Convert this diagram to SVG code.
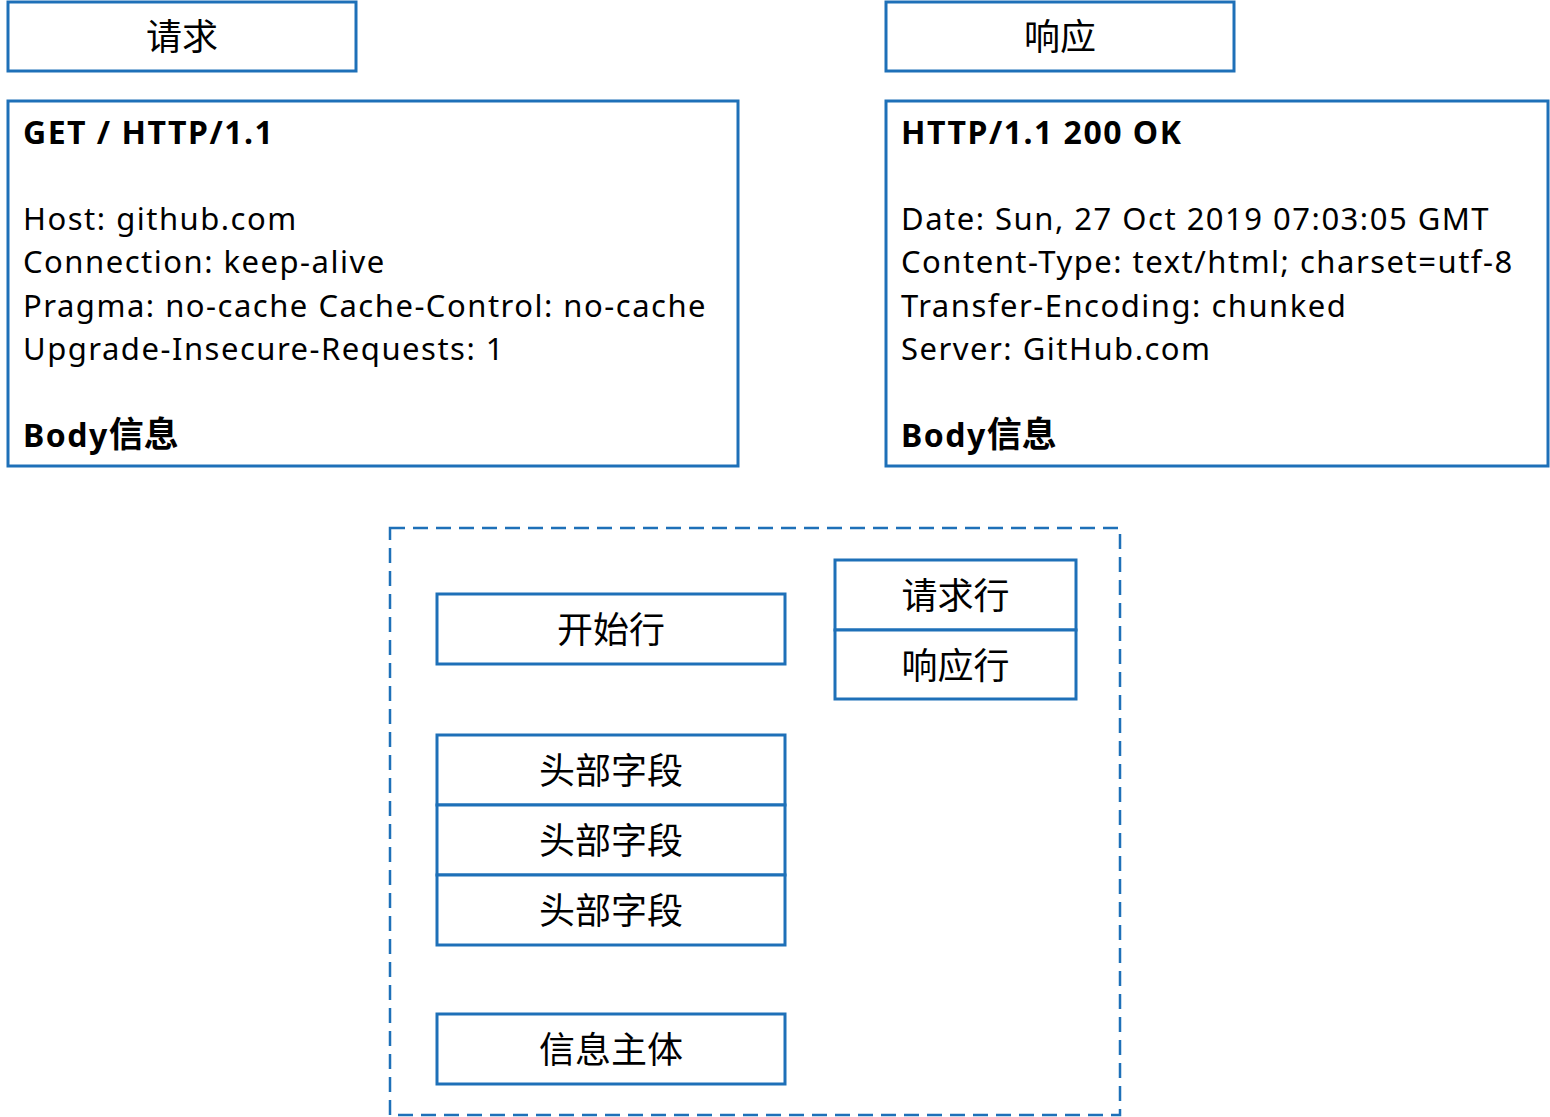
<svg xmlns="http://www.w3.org/2000/svg" width="1550" height="1117" viewBox="0 0 1550 1117">
<style>
.box{fill:#fff;stroke:#1E70B8;stroke-width:3}
.dash{fill:none;stroke:#1E70B8;stroke-width:2.5;stroke-dasharray:15 8}
.t{font-family:"Noto Sans CJK SC",sans-serif;fill:#000}
.c{font-size:36px;text-anchor:middle}
.l{font-family:"Noto Sans","Noto Sans CJK SC",sans-serif;font-size:31px;letter-spacing:1.5px}
.b{font-family:"Noto Sans","Noto Sans CJK SC",sans-serif;font-size:32px;font-weight:bold;letter-spacing:1.5px}
.zh{font-family:"Noto Sans CJK SC",sans-serif;font-size:35px;letter-spacing:0}
</style>
<rect width="1550" height="1117" fill="#fff"/>
<g id="container"><rect class="dash" x="390" y="528" width="730" height="587"/></g>
<g id="req-title"><rect class="box" x="8" y="2" width="348" height="69"/><text class="t c" x="182" y="50">请求</text></g>
<g id="resp-title"><rect class="box" x="886" y="2" width="348" height="69"/><text class="t c" x="1060" y="50">响应</text></g>
<g id="req-body"><rect class="box" x="8" y="101" width="730" height="365"/>
<text class="t b" x="23" y="144">GET / HTTP/1.1</text>
<text class="t l" x="23" y="230">Host: github.com</text>
<text class="t l" x="23" y="273">Connection: keep-alive</text>
<text class="t l" x="23" y="317">Pragma: no-cache Cache-Control: no-cache</text>
<text class="t l" x="23" y="360">Upgrade-Insecure-Requests: 1</text>
<text class="t b" x="23" y="447">Body<tspan class="zh">信息</tspan></text></g>
<g id="resp-body"><rect class="box" x="886" y="101" width="662" height="365"/>
<text class="t b" x="901" y="144">HTTP/1.1 200 OK</text>
<text class="t l" x="901" y="230">Date: Sun, 27 Oct 2019 07:03:05 GMT</text>
<text class="t l" x="901" y="273">Content-Type: text/html; charset=utf-8</text>
<text class="t l" x="901" y="317">Transfer-Encoding: chunked</text>
<text class="t l" x="901" y="360">Server: GitHub.com</text>
<text class="t b" x="901" y="447">Body<tspan class="zh">信息</tspan></text></g>
<g id="start-line"><rect class="box" x="437" y="594" width="348" height="70"/><text class="t c" x="611" y="643">开始行</text></g>
<g id="request-line"><rect class="box" x="835" y="560" width="241" height="70"/><text class="t c" x="955.500" y="609">请求行</text></g>
<g id="response-line"><rect class="box" x="835" y="630" width="241" height="69"/><text class="t c" x="955.500" y="679">响应行</text></g>
<g id="header1"><rect class="box" x="437" y="735" width="348" height="70"/><text class="t c" x="611" y="784">头部字段</text></g>
<g id="header2"><rect class="box" x="437" y="805" width="348" height="70"/><text class="t c" x="611" y="854">头部字段</text></g>
<g id="header3"><rect class="box" x="437" y="875" width="348" height="70"/><text class="t c" x="611" y="924">头部字段</text></g>
<g id="body"><rect class="box" x="437" y="1014" width="348" height="70"/><text class="t c" x="611" y="1063">信息主体</text></g>
<g id="connectors"></g>
</svg>
